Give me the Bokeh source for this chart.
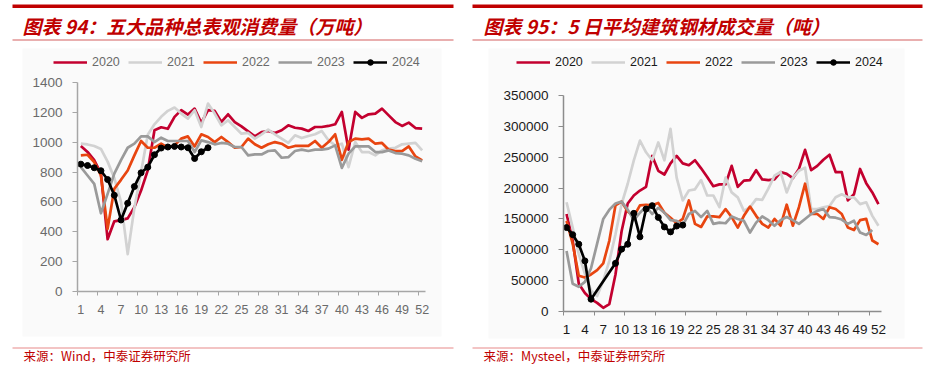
from bokeh.plotting import figure
from bokeh.models import (Range1d, FixedTicker, BoxAnnotation, Label, Legend,
                          LegendItem, BasicTickFormatter)
from bokeh.layouts import row
from bokeh.embed import file_html
from bokeh.resources import INLINE

# ---------------- data ----------------
weeks = list(range(1, 53))
week_tick_labels = list(range(1, 53, 3))
years = ["2020", "2021", "2022", "2023", "2024"]

# Chart 94: apparent consumption of five major steel products (10k t)
cons_2020 = [975, 935, 880, 790, 350, 470, 478, 490, 565, 676, 811, 1080, 1100, 1090, 1170, 1215,
             1185, 1225, 1130, 1215, 1210, 1136, 1187, 1135, 1106, 1073, 1039, 1068, 1075, 1062,
             1080, 1113, 1097, 1091, 1075, 1102, 1102, 1109, 1120, 1203, 950, 1203, 1163, 1187,
             1192, 1225, 1180, 1135, 1109, 1131, 1095, 1091]
cons_2021 = [990, 985, 975, 955, 870, 760, 600, 250, 560, 800, 1050, 1120, 1170, 1210, 1232, 1192,
             1158, 1214, 1102, 1259, 1192, 1113, 1147, 1102, 1057, 1062, 1024, 1053, 1084, 1053,
             1024, 995, 1046, 1028, 1042, 1053, 1075, 1013, 979, 990, 833, 1001, 934, 934, 912,
             945, 957, 963, 986, 990, 995, 945]
cons_2022 = [912, 916, 867, 777, 420, 688, 748, 811, 912, 1008, 963, 963, 990, 963, 979, 1024,
             1039, 972, 1053, 1035, 1001, 1035, 1001, 963, 968, 1024, 986, 963, 986, 1001, 990,
             963, 975, 975, 975, 1008, 963, 1001, 1053, 882, 1001, 1024, 1019, 1024, 990, 995,
             950, 941, 941, 972, 905, 878]
cons_2023 = [833, 777, 721, 524, 654, 790, 880, 963, 990, 1039, 1039, 1001, 1030, 1008, 1008, 1008,
             1008, 934, 1012, 1001, 986, 995, 990, 968, 968, 912, 918, 918, 941, 945, 896, 900,
             941, 950, 941, 950, 950, 957, 979, 828, 923, 972, 972, 972, 934, 934, 945, 927, 923,
             912, 889, 873]
cons_2024_weeks = list(range(1, 21))
cons_2024 = [853, 844, 829, 809, 750, 645, 479, 591, 703, 795, 833, 916, 961, 968, 972, 968, 963,
             891, 936, 963]

# Chart 95: 5-day average construction steel transactions (t)
trade_2020 = [158000, 115000, 45000, 30000, 20000, 14000, 6000, 12000, 60000, 130000, 175000,
              188000, 196000, 202000, 252000, 228000, 222000, 240000, 252000, 240000, 237000,
              245000, 232000, 218000, 203000, 206000, 206000, 236000, 202000, 212000, 213000,
              229000, 214000, 213000, 214000, 226000, 223000, 216000, 231000, 262000, 229000,
              236000, 246000, 254000, 226000, 226000, 180000, 190000, 231000, 208000, 193000,
              174000]
trade_2021 = [177000, 136000, 93000, 61000, 34000, 25000, 50000, 82000, 125000, 174000, 207000,
              245000, 277000, 258000, 245000, 274000, 245000, 296000, 217000, 180000, 196000,
              198000, 213000, 188000, 188000, 169000, 217000, 193000, 185000, 163000, 169000,
              182000, 181000, 199000, 220000, 226000, 193000, 217000, 228000, 233000, 166000,
              166000, 169000, 171000, 185000, 190000, 185000, 185000, 174000, 177000, 155000,
              139000]
trade_2022 = [147000, 110000, 58000, 55000, 60000, 67000, 78000, 115000, 172000, 178000, 162000,
              154000, 172000, 173000, 172000, 176000, 160000, 152000, 143000, 150000, 180000,
              142000, 137000, 154000, 154000, 153000, 166000, 153000, 136000, 155000, 170000,
              155000, 142000, 136000, 150000, 139000, 173000, 139000, 169000, 207000, 158000,
              158000, 150000, 169000, 166000, 158000, 136000, 132000, 148000, 150000, 115000,
              109000]
trade_2023_weeks = list(range(1, 52))
trade_2023 = [98000, 45000, 40000, 48000, 70000, 110000, 150000, 165000, 175000, 178000, 165000,
              148000, 160000, 170000, 158000, 168000, 160000, 148000, 147000, 140000, 158000,
              163000, 153000, 163000, 142000, 144000, 143000, 154000, 150000, 147000, 128000,
              144000, 154000, 148000, 139000, 148000, 153000, 148000, 142000, 150000, 158000,
              163000, 166000, 153000, 152000, 149000, 142000, 147000, 128000, 124000, 132000]
trade_2024_weeks = [1, 2, 3, 4, 5, 9, 10, 11, 12, 13, 14, 15, 16, 17, 18, 19, 20]
trade_2024 = [136000, 124500, 109000, 82000, 20000, 78000, 101000, 109000, 159000, 121000,
              166000, 171500, 152500, 137000, 129000, 138500, 140000]

cons_yticks = [0, 200, 400, 600, 800, 1000, 1200, 1400]
trade_yticks = [0, 50000, 100000, 150000, 200000, 250000, 300000, 350000]

# ---------------- styling / layout ----------------
colors = {"2020": "#C3002F", "2021": "#D2D2D2", "2022": "#E84510", "2023": "#9A9A9A", "2024": "#000000"}
RED = "#C00000"
PAGE_H = 365
FIG_W = 469


def make_panel(x0, axl, axr, yt, yb, ymax, yticks, minor_x, series, title, source,
               tick_color, axis_color, bg_box, tick_font_y, tick_font_x, leg_x):
    # frame covers the whole canvas; ranges chosen so the plot area lands at
    # axl..axr (week 0.5..52.5) and yb..yt (0..ymax) in page pixels
    kx = (axr - axl) / 52.0
    ky = (yb - yt) / float(ymax)
    xr = Range1d(0.5 - (axl - x0) / kx, 52.5 + (x0 + FIG_W - axr) / kx)
    yr = Range1d(-(PAGE_H - yb) / ky, ymax + yt / ky)
    p = figure(width=FIG_W, height=PAGE_H, x_range=xr, y_range=yr,
               output_backend="svg", toolbar_location=None,
               min_border=0, min_border_left=0, min_border_right=0,
               min_border_top=0, min_border_bottom=0)
    p.outline_line_color = None
    p.grid.visible = False
    p.background_fill_color = "white"
    p.border_fill_color = "white"

    def sx(X):
        return X - x0

    def sy(Y):
        return PAGE_H - Y

    def box(X1, X2, Y1, Y2, color, level="overlay"):
        p.add_layout(BoxAnnotation(left=sx(X1), right=sx(X2), top=sy(Y1), bottom=sy(Y2),
                                   left_units="screen", right_units="screen",
                                   top_units="screen", bottom_units="screen",
                                   fill_color=color, fill_alpha=1, line_color=None,
                                   level=level))

    lx = x0 + 12 if x0 == 0 else x0 + 3
    box(bg_box[0], bg_box[1], bg_box[2], bg_box[3], "#FAFAFA", level="underlay")
    box(lx, x0 + 453, 4, 7.5, RED)
    box(lx, x0 + 453, 39, 40, "#D46060")
    box(lx, x0 + 453, 347, 348, "#E88A8A")

    p.add_layout(Label(x=sx(title[1]), y=sy(25), x_units="screen", y_units="screen",
                       text=title[0], text_font="Noto Sans CJK SC", text_font_size="19px",
                       text_font_style="bold italic", text_color=RED,
                       text_baseline="middle", text_align="left"))
    p.add_layout(Label(x=sx(source[1]), y=sy(355), x_units="screen", y_units="screen",
                       text=source[0], text_font="Noto Sans CJK SC", text_font_size="12.5px",
                       text_color=RED, text_baseline="middle", text_align="left"))

    items = []
    for yr_ in years:
        xs, ys = series[yr_]
        r = p.line(xs, ys, line_color=colors[yr_], line_width=2.7, line_join="round")
        rs = [r]
        if yr_ == "2024":
            rs.append(p.scatter(xs, ys, size=6, fill_color="black", line_color="black"))
        items.append(LegendItem(label=yr_, renderers=rs))

    leg = Legend(items=items, orientation="horizontal",
                 location=(sx(leg_x), sy(62 + 7)),
                 glyph_width=34, glyph_height=14, label_height=14, label_width=29,
                 label_standoff=5, spacing=7, padding=0, margin=0,
                 border_line_color=None, background_fill_alpha=0,
                 label_text_font="Liberation Sans", label_text_font_size="12.5px",
                 label_text_color=tick_color)
    p.add_layout(leg)

    xa = p.xaxis[0]
    xa.fixed_location = 0
    xa.bounds = (0.5, 52.5)
    xa.ticker = FixedTicker(ticks=week_tick_labels, minor_ticks=minor_x)
    xa.major_tick_out = 0
    xa.major_tick_in = 0
    xa.minor_tick_out = 4
    xa.minor_tick_in = 0
    xa.axis_line_color = axis_color
    xa.minor_tick_line_color = axis_color
    xa.axis_line_width = 1.5
    xa.major_label_text_font = "Liberation Sans"
    xa.major_label_text_font_size = tick_font_x
    xa.major_label_text_color = tick_color
    xa.major_label_standoff = 9

    ya = p.yaxis[0]
    ya.fixed_location = 0.5
    ya.bounds = (0, ymax)
    ya.ticker = FixedTicker(ticks=yticks, minor_ticks=[])
    ya.formatter = BasicTickFormatter(use_scientific=False)
    ya.major_tick_out = 5
    ya.major_tick_in = 0
    ya.major_tick_line_color = axis_color
    ya.axis_line_color = axis_color
    ya.axis_line_width = 1.5
    ya.major_label_text_font = "Liberation Sans"
    ya.major_label_text_font_size = tick_font_y
    ya.major_label_text_color = tick_color
    ya.major_label_standoff = 10
    return p


left_series = {"2020": (weeks, cons_2020), "2021": (weeks, cons_2021),
               "2022": (weeks, cons_2022), "2023": (weeks, cons_2023),
               "2024": (cons_2024_weeks, cons_2024)}
right_series = {"2020": (weeks, trade_2020), "2021": (weeks, trade_2021),
                "2022": (weeks, trade_2022), "2023": (trade_2023_weeks, trade_2023),
                "2024": (trade_2024_weeks, trade_2024)}

left = make_panel(0, 77, 425, 82, 291, 1400, cons_yticks,
                  [0.5 + 3 * k for k in range(18)], left_series,
                  ("图表 94：五大品种总表观消费量（万吨）", 22),
                  ("来源：Wind，中泰证券研究所", 23),
                  "#6A6A6A", "#A6A6A6", (22, 441, 48, 336), "13.5px", "12.5px", 53)
right = make_panel(469, 563, 881, 95, 311, 350000, trade_yticks,
                   [0.5 + 5 * k for k in range(11)], right_series,
                   ("图表 95：5 日平均建筑钢材成交量（吨）", 483),
                   ("来源：Mysteel，中泰证券研究所", 483),
                   "#1A1A1A", "#8C8C8C", (488, 904, 48, 338), "13.5px", "13.5px", 516)

page = row(left, right)
open("out.html", "w").write(file_html(page, INLINE))
